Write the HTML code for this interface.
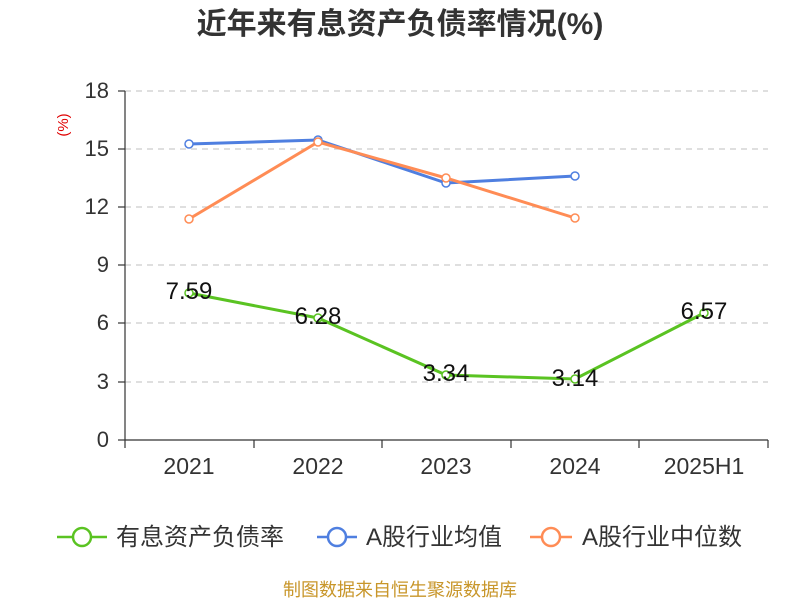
<!DOCTYPE html>
<html><head><meta charset="utf-8"><style>
body{margin:0;background:#fff;}
svg text{font-family:"Liberation Sans","Noto Sans CJK SC",sans-serif;}
</style></head><body>
<svg width="800" height="600" xmlns="http://www.w3.org/2000/svg">
<text x="400" y="34" text-anchor="middle" font-size="30" font-weight="bold" fill="#333">近年来有息资产负债率情况(%)</text>
<text x="68" y="125" font-size="15" fill="#e00000" transform="rotate(-90 68 125)" text-anchor="middle">(%)</text>
<g stroke="#ccc" stroke-dasharray="6,5" stroke-width="1.2">
<line x1="125" y1="91" x2="768" y2="91"/><line x1="125" y1="149" x2="768" y2="149"/>
<line x1="125" y1="207" x2="768" y2="207"/><line x1="125" y1="265" x2="768" y2="265"/>
<line x1="125" y1="323" x2="768" y2="323"/><line x1="125" y1="382" x2="768" y2="382"/>
</g>
<g stroke="#333" stroke-width="1.2">
<line x1="125" y1="91" x2="125" y2="440"/><line x1="125" y1="440" x2="768" y2="440"/>
<line x1="118" y1="91" x2="125" y2="91"/><line x1="118" y1="149" x2="125" y2="149"/><line x1="118" y1="207" x2="125" y2="207"/><line x1="118" y1="265" x2="125" y2="265"/><line x1="118" y1="323" x2="125" y2="323"/><line x1="118" y1="382" x2="125" y2="382"/><line x1="118" y1="440" x2="125" y2="440"/>
<line x1="125" y1="440" x2="125" y2="448"/><line x1="254" y1="440" x2="254" y2="448"/><line x1="382" y1="440" x2="382" y2="448"/><line x1="511" y1="440" x2="511" y2="448"/><line x1="639" y1="440" x2="639" y2="448"/><line x1="768" y1="440" x2="768" y2="448"/>
</g>
<g font-size="22" fill="#333" text-anchor="end">
<text x="109" y="98">18</text><text x="109" y="156">15</text><text x="109" y="214">12</text><text x="109" y="272">9</text><text x="109" y="330">6</text><text x="109" y="389">3</text><text x="109" y="447">0</text>
</g>
<g font-size="23" fill="#333" text-anchor="middle">
<text x="189" y="474">2021</text><text x="318" y="474">2022</text><text x="446" y="474">2023</text><text x="575" y="474">2024</text><text x="704" y="474">2025H1</text>
</g>
<polyline points="189,144 318,140 446,183 575,176" fill="none" stroke="#4f7fe0" stroke-width="3"/>
<polyline points="189,219 318,142 446,178 575,218" fill="none" stroke="#ff8c55" stroke-width="3"/>
<polyline points="189,293 318,318 446,375 575,379 704,313" fill="none" stroke="#5ac322" stroke-width="3"/>
<g fill="#fff" stroke-width="1.5">
<circle cx="189" cy="144" r="4" stroke="#4f7fe0"/><circle cx="318" cy="140" r="4" stroke="#4f7fe0"/><circle cx="446" cy="183" r="4" stroke="#4f7fe0"/><circle cx="575" cy="176" r="4" stroke="#4f7fe0"/>
<circle cx="189" cy="219" r="4" stroke="#ff8c55"/><circle cx="318" cy="142" r="4" stroke="#ff8c55"/><circle cx="446" cy="178" r="4" stroke="#ff8c55"/><circle cx="575" cy="218" r="4" stroke="#ff8c55"/>
<circle cx="189" cy="293" r="4" stroke="#5ac322"/><circle cx="318" cy="318" r="4" stroke="#5ac322"/><circle cx="446" cy="375" r="4" stroke="#5ac322"/><circle cx="575" cy="379" r="4" stroke="#5ac322"/><circle cx="704" cy="313" r="4" stroke="#5ac322"/>
</g>
<g font-size="24" fill="#111" text-anchor="middle">
<text x="189" y="299">7.59</text><text x="318" y="324">6.28</text><text x="446" y="381">3.34</text><text x="575" y="386">3.14</text><text x="704" y="319">6.57</text>
</g>
<g stroke-width="2.5" fill="#fff">
<line x1="57" y1="537" x2="107" y2="537" stroke="#5ac322"/><circle cx="82" cy="537" r="9" stroke="#5ac322"/>
<line x1="317" y1="537" x2="357" y2="537" stroke="#4f7fe0"/><circle cx="337" cy="537" r="9" stroke="#4f7fe0"/>
<line x1="530" y1="537" x2="572" y2="537" stroke="#ff8c55"/><circle cx="551" cy="537" r="9" stroke="#ff8c55"/>
</g>
<g font-size="24" fill="#333">
<text x="116" y="545">有息资产负债率</text><text x="366" y="545">A股行业均值</text><text x="582" y="545">A股行业中位数</text>
</g>
<text x="400" y="596" text-anchor="middle" font-size="18" fill="#c8962a">制图数据来自恒生聚源数据库</text>
</svg>
</body></html>
